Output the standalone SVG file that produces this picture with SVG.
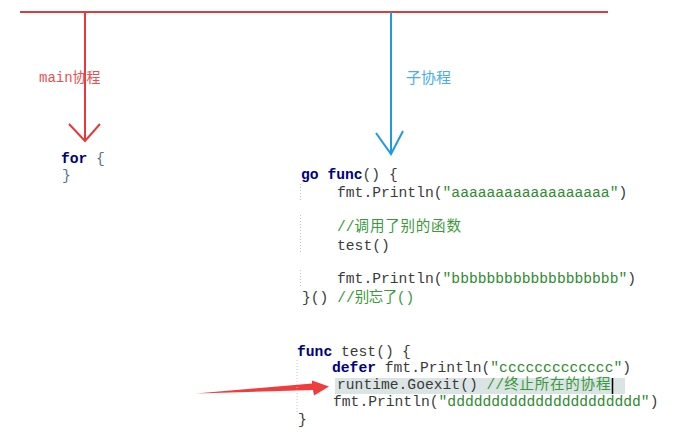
<svg xmlns="http://www.w3.org/2000/svg" width="682" height="439" viewBox="0 0 682 439">
<style>
text{white-space:pre}
.code{font-family:"Liberation Mono","Courier New",monospace;font-size:14.67px;fill:#3a3a3a}
.kw{font-weight:bold;fill:#000080}
.str{fill:#2e8b2e}
.cmt{fill:#3a9a3a}
.cjk{font-family:"Noto Sans CJK SC","Noto Sans",sans-serif;font-size:14.5px}
.brace{fill:#5a7088}
.guide{stroke:#c4c4c4;stroke-width:1;stroke-dasharray:1 2;fill:none}
.lblred{font-family:"Liberation Mono",monospace;font-size:14px;fill:#e85050}
.lblblue{font-family:"Noto Sans CJK SC","Noto Sans",sans-serif;font-size:15px;fill:#4aaee6}
</style>
<rect width="682" height="439" fill="#ffffff"/>
<g id="connectors">
<line x1="20" y1="12" x2="608" y2="12" stroke="#e03a3a" stroke-width="2"/>
<line x1="85" y1="12" x2="85" y2="141" stroke="#e63a3a" stroke-width="2"/>
<polyline points="69,124 85,141 100,124" fill="none" stroke="#e63a3a" stroke-width="2"/>
<line x1="391" y1="12" x2="391" y2="154" stroke="#1e9ae0" stroke-width="2"/>
<polyline points="376,133 391,154 403,131" fill="none" stroke="#1e9ae0" stroke-width="2"/>
<polygon points="196,393.5 312,383.5 312,380.5 329,386.5 314,395.5 313,390" fill="#f03c3c"/>
</g>
<g id="main-label">
<text class="lblred" x="39" y="82">main<tspan font-family="Noto Sans CJK SC,sans-serif">协程</tspan></text>
</g>
<g id="sub-label">
<text class="lblblue" x="406" y="83">子协程</text>
</g>
<g id="main-code">
<text class="code" x="61" y="163"><tspan class="kw">for</tspan></text>
<text class="code brace" x="96" y="163">{</text>
<text class="code brace" x="62" y="180">}</text>
</g>
<g id="go-func">
<line class="guide" x1="300.5" y1="184" x2="300.5" y2="200"/>
<line class="guide" x1="300.5" y1="215" x2="300.5" y2="254"/>
<line class="guide" x1="300.5" y1="270" x2="300.5" y2="288"/>
<text class="code" x="301" y="179"><tspan class="kw">go func</tspan>()</text>
<text class="code" x="389" y="179">{</text>
<text class="code" x="337" y="197">fmt.Println(<tspan class="str">"aaaaaaaaaaaaaaaaaa"</tspan>)</text>
<text class="code cmt" x="337" y="231">//<tspan class="cjk" letter-spacing="0.8">调用了别的函数</tspan></text>
<text class="code" x="337" y="250">test()</text>
<text class="code" x="337" y="283">fmt.Println(<tspan class="str">"bbbbbbbbbbbbbbbbbbb"</tspan>)</text>
<text class="code" x="302" y="302">}() <tspan class="cmt">//<tspan class="cjk" letter-spacing="-0.5">别忘了</tspan>()</tspan></text>
</g>
<g id="test-func">
<line class="guide" x1="297" y1="360" x2="297" y2="412"/>
<rect x="335" y="378" width="290" height="16" fill="#dae4e4"/>
<line x1="612.5" y1="378" x2="612.5" y2="394" stroke="#000000" stroke-width="1.5"/>
<text class="code" x="297" y="356"><tspan class="kw">func</tspan> test()</text>
<text class="code" x="402" y="356">{</text>
<text class="code" x="332" y="372"><tspan class="kw">defer</tspan> fmt.Println(<tspan class="str">"ccccccccccccc"</tspan>)</text>
<text class="code" x="337" y="389">runtime.Goexit() <tspan class="cmt">//<tspan class="cjk" letter-spacing="0.8">终止所在的协程</tspan></tspan></text>
<text class="code" x="333" y="406">fmt.Println(<tspan class="str">"dddddddddddddddddddddd"</tspan>)</text>
<text class="code" x="298" y="424">}</text>
</g>
</svg>
